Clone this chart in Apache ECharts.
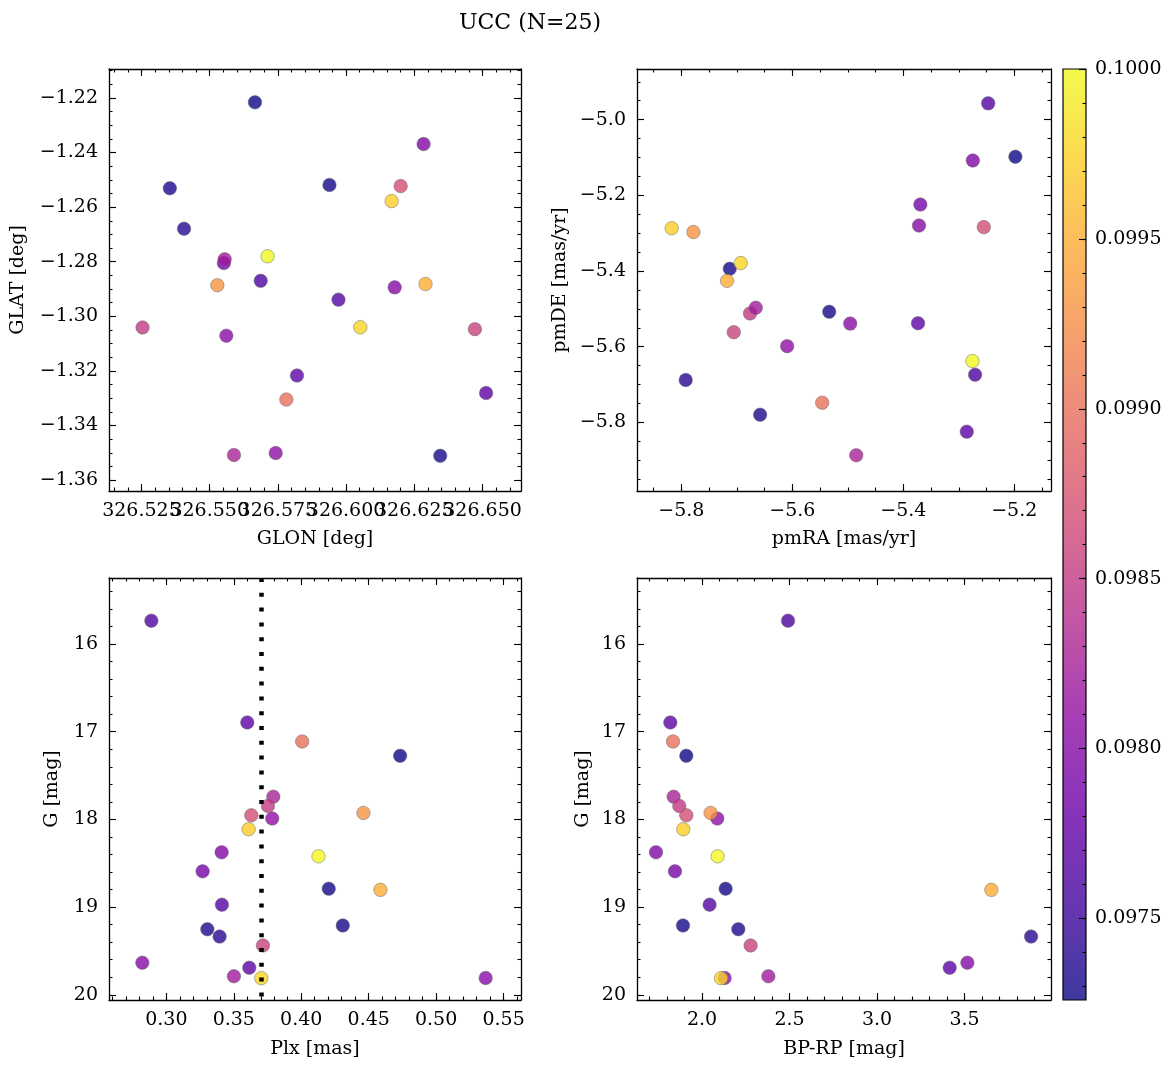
<!DOCTYPE html>
<html><head><meta charset="utf-8">
<script src="https://cdn.jsdelivr.net/npm/echarts@6/dist/echarts.min.js"></script>
<style>html,body{margin:0;padding:0;background:#fff}#c{width:1173px;height:1068px}</style>
</head><body><div id="c"></div>
<script>
// ---- data (one entry per star) ----
const prob = [0.09726,0.09728,0.09730,0.09733,0.09740,0.09760,0.09765,0.09770,0.09772,0.09790,0.09797,0.09800,0.09803,0.09808,0.09828,0.09850,0.09820,0.09858,0.09870,0.09900,0.09930,0.09950,0.09972,0.09978,0.10000];
const glon = [326.5666,326.5939,326.6345,326.5354,326.5406,326.5687,326.5972,326.5820,326.6513,326.5552,326.6284,326.6178,326.5561,326.5742,326.5589,326.5254,326.5555,326.6472,326.6200,326.5781,326.5528,326.6291,326.6167,326.6052,326.5712];
const glat = [-1.2216,-1.2519,-1.3511,-1.2531,-1.2679,-1.2870,-1.2939,-1.3217,-1.3281,-1.2805,-1.2369,-1.2894,-1.3071,-1.3501,-1.3508,-1.3041,-1.2791,-1.3047,-1.2523,-1.3305,-1.2886,-1.2882,-1.2578,-1.3040,-1.2780];
const pmra = [-5.198,-5.7128,-5.5336,-5.6581,-5.7922,-5.2706,-5.247,-5.3735,-5.2856,-5.3693,-5.2747,-5.3717,-5.4957,-5.6094,-5.4848,-5.6762,-5.6659,-5.7056,-5.2549,-5.5462,-5.7783,-5.7177,-5.8175,-5.693,-5.2754];
const pmde = [-5.098,-5.394,-5.5077,-5.7798,-5.688,-5.674,-4.957,-5.538,-5.8245,-5.2244,-5.108,-5.280,-5.539,-5.5985,-5.8869,-5.512,-5.497,-5.5616,-5.284,-5.748,-5.297,-5.426,-5.287,-5.379,-5.638];
const plx  = [0.4733,0.4204,0.4308,0.3304,0.3395,0.2889,0.3412,0.3615,0.3600,0.3269,0.3410,0.2822,0.5367,0.3785,0.3793,0.3753,0.3501,0.3716,0.3630,0.4007,0.4461,0.4587,0.3610,0.3704,0.4128];
const gmag = [17.275,18.790,19.209,19.252,19.336,15.734,18.972,19.691,16.894,18.592,18.375,19.634,19.808,17.990,17.741,17.846,19.789,19.437,17.953,17.111,17.926,18.803,18.112,19.810,18.421];
const bprp = [1.9103,2.1349,1.8914,2.2074,3.8800,2.4914,2.0434,3.4149,1.8189,1.8457,1.7371,3.5160,2.1291,2.0874,1.8377,1.8703,2.3789,2.2777,1.9103,1.8343,2.0491,3.6531,1.8931,2.1086,2.0891];
const plxRef = 0.3708;

// ---- tick labels ----
const glonTicks = [326.525, 326.550, 326.575, 326.600, 326.625, 326.650];
const glatTicks = [-1.36, -1.34, -1.32, -1.30, -1.28, -1.26, -1.24, -1.22];
const pmraTicks = [-5.8, -5.6, -5.4, -5.2];
const pmdeTicks = [-5.8, -5.6, -5.4, -5.2, -5.0];
const plxTicks  = [0.30, 0.35, 0.40, 0.45, 0.50, 0.55];
const gTicks    = [16, 17, 18, 19, 20];
const bprpTicks = [2.0, 2.5, 3.0, 3.5];
const cbarTicks = [0.0975, 0.0980, 0.0985, 0.0990, 0.0995, 0.1000];
const vmin = 0.09726, vmax = 0.1000;
const plasma = ['#0d0887','#41049d','#6a00a8','#8f0da4','#b12a90','#cc4778','#e16462','#f2844b','#fca636','#fcce25','#f0f921'];

const FONT = 'DejaVu Serif';
const FS = 19;
const TXT = {fontFamily: FONT, fontSize: FS, color: '#000'};

function minorTicks(min, max, step) {
  const out = [];
  for (let i = Math.ceil(min / step - 1e-9); i * step <= max + 1e-12; i++) out.push(+(i * step).toFixed(10));
  return out;
}
function fmt(dec) { return v => (v < 0 ? '\u2212' : '') + Math.abs(v).toFixed(dec); }

const xAxes = [], yAxes = [];
function axisSet(list, gi, spec, positions, z) {
  const minor = minorTicks(spec.min, spec.max, spec.minorStep);
  const base = {type: 'value', gridIndex: gi, min: spec.min, max: spec.max, inverse: !!spec.inverse,
    splitLine: {show: false}, z: z || 0};
  const tickStyle = {color: '#000', width: 1.1};
  // labels of long tick texts are split over two stacked axes so that none gets hidden
  const labA = spec.split ? spec.ticks.filter((v, i) => i % 2 === 0) : spec.ticks;
  const labB = spec.split ? spec.ticks.filter((v, i) => i % 2 === 1) : null;
  const labelOpt = vals => Object.assign({show: true, customValues: vals, formatter: fmt(spec.dec),
    margin: spec.margin, showMinLabel: true, showMaxLabel: true, hideOverlap: false}, TXT);
  const mainIndex = list.length;
  positions.forEach((pos, k) => {
    list.push(Object.assign({}, base, {
      position: pos,
      axisLine: {show: spec.line !== false, onZero: false, lineStyle: {color: '#000', width: 1.3}},
      axisTick: {show: true, inside: true, length: 7, customValues: spec.ticks, lineStyle: tickStyle},
      axisLabel: k === 0 ? labelOpt(labA) : {show: false},
      name: k === 0 ? spec.name : '', nameLocation: 'middle', nameGap: spec.nameGap, nameTextStyle: TXT
    }));
    list.push(Object.assign({}, base, {
      position: pos,
      axisLine: {show: false, onZero: false},
      axisTick: {show: true, inside: true, length: 3.5, customValues: minor, lineStyle: tickStyle},
      axisLabel: (k === 0 && labB) ? labelOpt(labB) : {show: false}
    }));
  });
  return mainIndex;
}

const grids = [
  {left: 109, top: 69, width: 412, height: 422},
  {left: 637, top: 69, width: 414, height: 422},
  {left: 109, top: 578, width: 412, height: 422},
  {left: 637, top: 578, width: 414, height: 422},
  {left: 1063, top: 69, width: 23, height: 931}
];

const ax = [];
ax.push([axisSet(xAxes, 0, {min: 326.5131, max: 326.6641, ticks: glonTicks, split: true, minorStep: 0.005, dec: 3, margin: 11, name: 'GLON [deg]', nameGap: 39}, ['bottom', 'top']),
         axisSet(yAxes, 0, {min: -1.364, max: -1.2094, ticks: glatTicks, minorStep: 0.005, dec: 2, margin: 11, name: 'GLAT [deg]', nameGap: 81}, ['left', 'right'])]);
ax.push([axisSet(xAxes, 1, {min: -5.880, max: -5.1338, ticks: pmraTicks, minorStep: 0.05, dec: 1, margin: 11, name: 'pmRA [mas/yr]', nameGap: 39}, ['bottom', 'top']),
         axisSet(yAxes, 1, {min: -5.9813, max: -4.8662, ticks: pmdeTicks, minorStep: 0.05, dec: 1, margin: 11, name: 'pmDE [mas/yr]', nameGap: 67}, ['left', 'right'])]);
ax.push([axisSet(xAxes, 2, {min: 0.2575, max: 0.5629, ticks: plxTicks, minorStep: 0.01, dec: 2, margin: 11, name: 'Plx [mas]', nameGap: 40}, ['bottom', 'top']),
         axisSet(yAxes, 2, {min: 15.247, max: 20.059, inverse: true, ticks: gTicks, minorStep: 0.2, dec: 0, margin: 11, name: 'G [mag]', nameGap: 47}, ['left', 'right'])]);
ax.push([axisSet(xAxes, 3, {min: 1.6286, max: 3.9937, ticks: bprpTicks, minorStep: 0.1, dec: 1, margin: 11, name: 'BP-RP [mag]', nameGap: 40}, ['bottom', 'top']),
         axisSet(yAxes, 3, {min: 15.247, max: 20.059, inverse: true, ticks: gTicks, minorStep: 0.2, dec: 0, margin: 11, name: 'G [mag]', nameGap: 44}, ['left', 'right'])]);
// colorbar axes
const cbx = xAxes.length;
xAxes.push({type: 'value', gridIndex: 4, min: 0, max: 1, show: false});
const cby = axisSet(yAxes, 4, {min: vmin, max: vmax, ticks: cbarTicks, minorStep: 0.0001, dec: 4, margin: 9, name: '', nameGap: 0, line: false}, ['right'], 5);

const cols = [[glon, glat], [pmra, pmde], [plx, gmag], [bprp, gmag]];
const series = cols.map((c, k) => {
  const s = {
    type: 'scatter', xAxisIndex: ax[k][0], yAxisIndex: ax[k][1],
    data: prob.map((p, i) => [c[0][i], c[1][i], p]),
    symbol: 'circle', symbolSize: 13.5,
    itemStyle: {opacity: 0.8, borderColor: '#666', borderWidth: 0.6},
    emphasis: {disabled: true}, silent: true, animation: false
  };
  if (k === 2) {
    s.markLine = {silent: true, symbol: ['none', 'none'], label: {show: false}, animation: false,
      lineStyle: {color: '#000', width: 4.5, type: [4, 10.8], cap: 'butt', opacity: 1},
      emphasis: {disabled: true}, data: [{xAxis: plxRef}]};
  }
  return s;
});
series.push({
  type: 'custom', xAxisIndex: cbx, yAxisIndex: cby, silent: true, animation: false, z: 1,
  data: [[0, vmin, 1, vmax]],
  renderItem: (params, api) => {
    const p0 = api.coord([api.value(0), api.value(1)]);
    const p1 = api.coord([api.value(2), api.value(3)]);
    const shape = {x: p0[0], y: p1[1], width: p1[0] - p0[0], height: p0[1] - p1[1]};
    return {type: 'group', children: [
      {type: 'rect', shape: shape, style: {fill: new echarts.graphic.LinearGradient(0, 1, 0, 0,
        plasma.map((c, i) => ({offset: i / (plasma.length - 1), color: c}))), opacity: 0.8}},
      {type: 'rect', shape: shape, style: {fill: 'none', stroke: '#000', lineWidth: 1.2}}
    ]};
  }
});

const chart = echarts.init(document.getElementById('c'), null, {renderer: 'canvas'});
chart.setOption({
  animation: false,
  backgroundColor: '#fff',
  title: {text: 'UCC (N=25)', left: 525, top: 7, textAlign: 'center',
    textStyle: {fontFamily: FONT, fontSize: 22, fontWeight: 'normal', color: '#000'}},
  grid: grids,
  xAxis: xAxes,
  yAxis: yAxes,
  visualMap: {type: 'continuous', show: false, min: vmin, max: vmax, dimension: 2,
    seriesIndex: [0, 1, 2, 3], inRange: {color: plasma}},
  series: series
});
</script></body></html>
